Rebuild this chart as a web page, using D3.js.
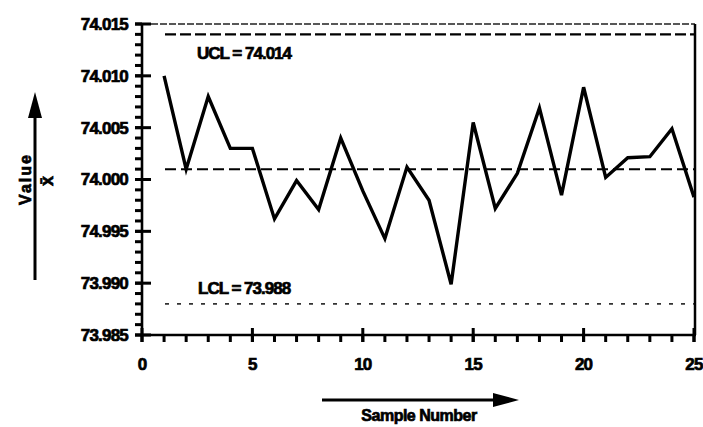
<!DOCTYPE html>
<html>
<head>
<meta charset="utf-8">
<script src="https://cdn.jsdelivr.net/npm/d3@7"></script>
<style>
  body { margin: 0; background: #fff; }
  text { font-family: "Liberation Sans", Arial, sans-serif; font-weight: bold; fill: #000; stroke: #000; stroke-width: 0.7px; }
</style>
</head>
<body>
<div id="chart"></div>
<script>
// chart data
const samples = [1,2,3,4,5,6,7,8,9,10,11,12,13,14,15,16,17,18,19,20,21,22,23,24,25];
const values = [74.010, 74.001, 74.008, 74.003, 74.003, 73.9962, 73.9999, 73.9971, 74.0040, 73.9989,
                73.9943, 74.0012, 73.9980, 73.9899, 74.0055, 73.9972, 74.0006, 74.0069, 73.9985, 74.0089,
                74.0002, 74.0021, 74.0022, 74.0049, 73.9983];
const ucl = 74.014, centerLine = 74.001, lcl = 73.988;
const yTickValues = [73.985, 73.990, 73.995, 74.000, 74.005, 74.010, 74.015];
const yTickLabels = ["73.985", "73.990", "74.995", "74.000", "74.005", "74.010", "74.015"];
const xTickValues = [0, 5, 10, 15, 20, 25];

const W = 703, H = 427;
const plotLeft = 142, plotRight = 694, plotTop = 24, plotBottom = 335;

const svg = d3.select("#chart").append("svg")
    .attr("width", W).attr("height", H);

const x = d3.scaleLinear().domain([0, 25]).range([plotLeft, plotRight]);
const y = d3.scaleLinear().domain([73.985, 74.015]).range([plotBottom, plotTop]);

const yMinor = d3.range(0, 31).map(i => 73.985 + i * 0.001);
const xMinor = d3.range(0, 26);

// top border (faint, broken) and right border
svg.append("line")
    .attr("x1", plotLeft).attr("x2", plotRight + 1).attr("y1", y(74.015)).attr("y2", y(74.015))
    .attr("stroke", "#222").attr("stroke-width", 1.5).attr("stroke-dasharray", "7,2");
svg.append("line")
    .attr("x1", plotRight + 1).attr("x2", plotRight + 1).attr("y1", y(74.015)).attr("y2", plotBottom)
    .attr("stroke", "#000").attr("stroke-width", 2.5);

// axis lines
svg.append("path")
    .attr("d", `M${plotLeft},${plotTop}V${plotBottom}H${plotRight + 2}`)
    .attr("fill", "none").attr("stroke", "#000").attr("stroke-width", 2.6);

// ticks as small rects
svg.append("g").selectAll("rect")
    .data(yMinor)
    .join("rect")
    .attr("x", plotLeft - 7).attr("y", d => y(d) - 1.5)
    .attr("width", 7).attr("height", 3).attr("fill", "#000");
svg.append("g").selectAll("rect")
    .data(yTickValues)
    .join("rect")
    .attr("x", plotLeft - 7).attr("y", d => y(d) - 1.5)
    .attr("width", 16).attr("height", 3).attr("fill", "#000");
svg.append("g").selectAll("rect")
    .data(xMinor)
    .join("rect")
    .attr("x", d => x(d) - 1.5).attr("y", plotBottom)
    .attr("width", 3).attr("height", 7).attr("fill", "#000");
svg.append("g").selectAll("rect")
    .data(xTickValues)
    .join("rect")
    .attr("x", d => x(d) - 1.5).attr("y", plotBottom - 7)
    .attr("width", 3).attr("height", 14).attr("fill", "#000");

svg.append("g").selectAll("text")
    .data(yTickValues)
    .join("text")
    .attr("x", plotLeft - 14).attr("y", d => y(d)).attr("dy", "0.35em")
    .attr("text-anchor", "end").attr("font-size", 17).attr("letter-spacing", "-0.8")
    .text((d, i) => yTickLabels[i]);

svg.append("g").selectAll("text")
    .data(xTickValues)
    .join("text")
    .attr("x", d => x(d)).attr("y", plotBottom + 35)
    .attr("text-anchor", "middle").attr("font-size", 17).attr("letter-spacing", "-0.8")
    .text(d => d);

// control lines
const x0 = 165;
svg.append("line")
    .attr("x1", x0).attr("x2", plotRight).attr("y1", y(ucl)).attr("y2", y(ucl))
    .attr("stroke", "#000").attr("stroke-width", 2.2).attr("stroke-dasharray", "11,4");
svg.append("line")
    .attr("x1", x0).attr("x2", plotRight).attr("y1", y(centerLine)).attr("y2", y(centerLine))
    .attr("stroke", "#000").attr("stroke-width", 2).attr("stroke-dasharray", "11,5");
svg.append("line")
    .attr("x1", x0).attr("x2", plotRight).attr("y1", y(lcl)).attr("y2", y(lcl))
    .attr("stroke", "#333").attr("stroke-width", 1.6).attr("stroke-dasharray", "4,8");

svg.append("text").attr("x", 197).attr("y", y(ucl) + 25)
    .attr("font-size", 17).attr("letter-spacing", "-1").text("UCL = " + ucl.toFixed(3));
svg.append("text").attr("x", 198).attr("y", y(lcl) - 10)
    .attr("font-size", 17).attr("letter-spacing", "-1").text("LCL = " + lcl.toFixed(3));

// data line
const line = d3.line().x((d, i) => x(samples[i])).y(d => y(d));
svg.append("path")
    .datum(values)
    .attr("d", line)
    .attr("fill", "none")
    .attr("stroke", "#000")
    .attr("stroke-width", 3.4)
    .attr("stroke-linejoin", "miter");

// y label with arrow
svg.append("line").attr("x1", 35).attr("x2", 35).attr("y1", 280).attr("y2", 112)
    .attr("stroke", "#000").attr("stroke-width", 3);
svg.append("path").attr("d", "M35,92L28,118L42,118Z").attr("fill", "#000");
svg.append("text")
    .attr("transform", "translate(31,179) rotate(-90)")
    .attr("text-anchor", "middle").attr("font-size", 16).attr("letter-spacing", "2")
    .text("Value");
svg.append("text")
    .attr("transform", "translate(53,181) rotate(-90)")
    .attr("text-anchor", "middle").attr("font-size", 18)
    .text("x\u0304");

// x label with arrow
svg.append("line").attr("x1", 322).attr("x2", 498).attr("y1", 400).attr("y2", 400)
    .attr("stroke", "#000").attr("stroke-width", 3);
svg.append("path").attr("d", "M519,400L493,393L493,407Z").attr("fill", "#000");
svg.append("text")
    .attr("x", 419).attr("y", 421)
    .attr("text-anchor", "middle").attr("font-size", 16).attr("letter-spacing", "-0.5")
    .text("Sample Number");
</script>
</body>
</html>
